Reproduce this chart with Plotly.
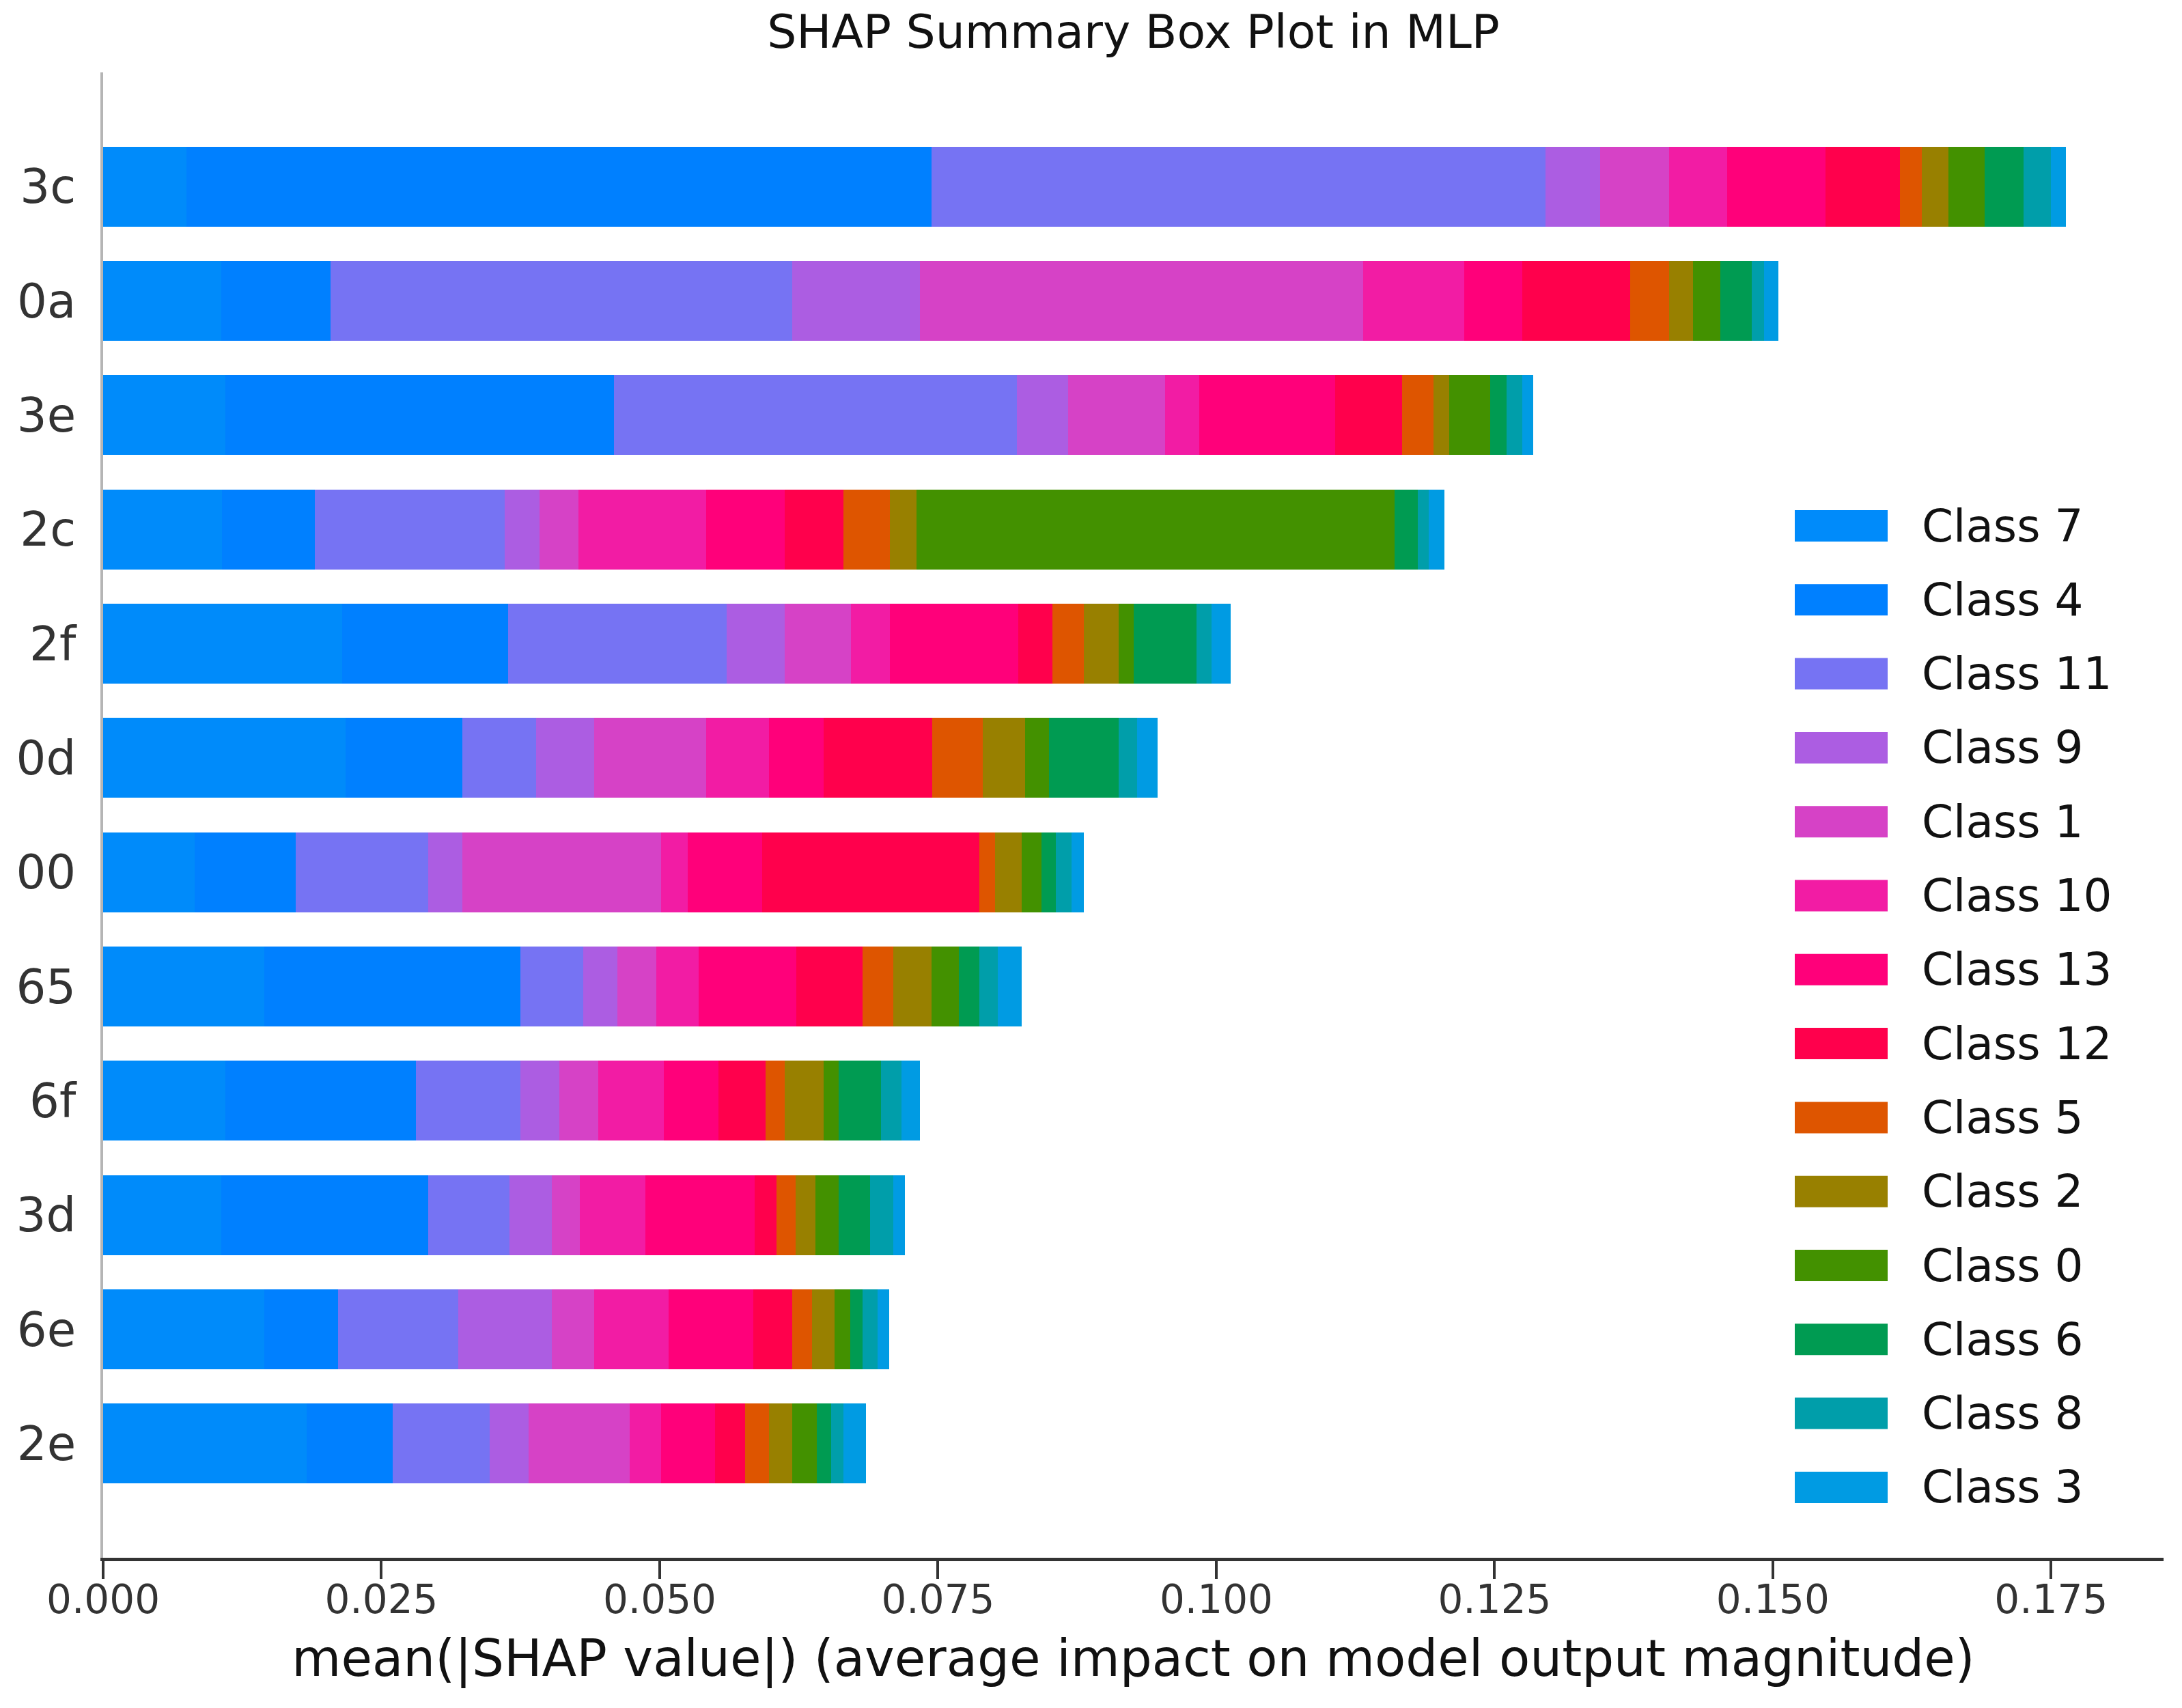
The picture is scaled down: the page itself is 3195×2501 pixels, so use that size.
import plotly.graph_objects as go

# features, top to bottom
features = ['3c', '0a', '3e', '2c', '2f', '0d', '00', '65', '6f', '3d', '6e', '2e']

# stacking order (also legend order)
class_names = ['Class 7', 'Class 4', 'Class 11', 'Class 9', 'Class 1', 'Class 10', 'Class 13',
               'Class 12', 'Class 5', 'Class 2', 'Class 0', 'Class 6', 'Class 8', 'Class 3']
class_colors = ['#008bfa', '#0080ff', '#7673f3', '#ac5de2', '#d642c6', '#f21ca4', '#ff007a',
                '#ff004c', '#de5500', '#988000', '#439100', '#009b52', '#009eaa', '#009be3']

# mean(|SHAP|) per class, one value per feature (same order as features)
class_7 = [0.0075, 0.0106, 0.0110, 0.0107, 0.0215, 0.0218, 0.0082, 0.0145, 0.0110, 0.0106, 0.0145, 0.0183]
class_4 = [0.0669, 0.0098, 0.0349, 0.0083, 0.0149, 0.0105, 0.0091, 0.0230, 0.0171, 0.0186, 0.0066, 0.0077]
class_11 = [0.0552, 0.0415, 0.0362, 0.0171, 0.0196, 0.0066, 0.0119, 0.0056, 0.0094, 0.0073, 0.0108, 0.0087]
class_9 = [0.0049, 0.0115, 0.0046, 0.0031, 0.0052, 0.0052, 0.0031, 0.0031, 0.0035, 0.0038, 0.0084, 0.0035]
class_1 = [0.0062, 0.0398, 0.0087, 0.0035, 0.0060, 0.0101, 0.0178, 0.0035, 0.0035, 0.0025, 0.0038, 0.0091]
class_10 = [0.0052, 0.0091, 0.0031, 0.0115, 0.0035, 0.0056, 0.0024, 0.0038, 0.0059, 0.0059, 0.0067, 0.0028]
class_13 = [0.0088, 0.0052, 0.0122, 0.0070, 0.0115, 0.0049, 0.0067, 0.0088, 0.0049, 0.0098, 0.0076, 0.0049]
class_12 = [0.0067, 0.0097, 0.0060, 0.0053, 0.0031, 0.0098, 0.0195, 0.0059, 0.0042, 0.0020, 0.0035, 0.0027]
class_5 = [0.0020, 0.0035, 0.0028, 0.0042, 0.0028, 0.0045, 0.0014, 0.0028, 0.0017, 0.0017, 0.0018, 0.0021]
class_2 = [0.0024, 0.0021, 0.0014, 0.0024, 0.0031, 0.0038, 0.0024, 0.0034, 0.0035, 0.0018, 0.0020, 0.0021]
class_0 = [0.0032, 0.0025, 0.0037, 0.0429, 0.0014, 0.0022, 0.0018, 0.0025, 0.0014, 0.0021, 0.0014, 0.0022]
class_6 = [0.0035, 0.0028, 0.0015, 0.0021, 0.0056, 0.0062, 0.0013, 0.0018, 0.0038, 0.0028, 0.0011, 0.0013]
class_8 = [0.0025, 0.0011, 0.0014, 0.0010, 0.0014, 0.0017, 0.0014, 0.0017, 0.0018, 0.0021, 0.0014, 0.0011]
class_3 = [0.0013, 0.0013, 0.0010, 0.0014, 0.0017, 0.0018, 0.0011, 0.0021, 0.0017, 0.0010, 0.0010, 0.0020]

class_values = [class_7, class_4, class_11, class_9, class_1, class_10, class_13,
                class_12, class_5, class_2, class_0, class_6, class_8, class_3]

x_ticks = [0.0, 0.025, 0.05, 0.075, 0.1, 0.125, 0.15, 0.175]

# figure geometry (pixels); the page body adds an 8px offset on the left and top
OFF = 8
W, H = 3195 - OFF, 2501 - OFF
L, R, T, B = 151 - OFF, 27, 106 - OFF, 220
FONT = 'DejaVu Sans'


def px_x(px):
    # page pixel -> paper fraction
    return (px - OFF - L) / (W - L - R)


def px_y(py):
    return (H - B - (py - OFF)) / (H - T - B)


fig = go.Figure()

for name, color, vals in zip(class_names, class_colors, class_values):
    fig.add_trace(go.Bar(
        x=vals,
        y=features,
        orientation='h',
        name=name,
        width=0.7,
        marker=dict(color=color, line=dict(width=0)),
        showlegend=False
    ))

# legend drawn by hand so the patches get matplotlib's size
shapes = []
annotations = []
for k, (name, color) in enumerate(zip(class_names, class_colors)):
    yc = 770 + k * 108.3
    shapes.append(dict(
        type='rect', xref='paper', yref='paper',
        x0=px_x(2628), x1=px_x(2764),
        y0=px_y(yc + 23), y1=px_y(yc - 23),
        fillcolor=color, line=dict(width=0)
    ))
    annotations.append(dict(
        xref='paper', yref='paper',
        x=px_x(2812), y=px_y(yc),
        xanchor='left', yanchor='middle',
        text=name, showarrow=False,
        font=dict(family=FONT, size=66, color='#111111')
    ))

fig.update_layout(
    width=W, height=H, autosize=False,
    barmode='stack',
    bargap=0.3,
    plot_bgcolor='white', paper_bgcolor='white',
    margin=dict(l=L, r=R, t=T, b=B, autoexpand=False),
    font=dict(family=FONT, color='#333333'),
    title=dict(
        text='SHAP Summary Box Plot in MLP',
        x=0.5, xref='paper', xanchor='center',
        y=1 - 38 / H, yanchor='middle',
        font=dict(family=FONT, size=68, color='#111111')
    ),
    xaxis=dict(
        range=[0, 0.1851],
        tickvals=x_ticks,
        tickformat='.3f',
        ticks='outside', ticklen=26, tickwidth=4, tickcolor='#333333',
        ticklabelstandoff=-20,
        tickfont=dict(family=FONT, size=58, color='#333333'),
        showline=True, linecolor='#333333', linewidth=5,
        showgrid=False, zeroline=False,
        automargin=False,
        title=dict(
            text='mean(|SHAP value|) (average impact on model output magnitude)',
            font=dict(family=FONT, size=74, color='#111111'),
            standoff=29
        )
    ),
    yaxis=dict(
        type='category',
        categoryorder='array', categoryarray=features,
        range=[len(features), -1],
        ticks='', ticklabelstandoff=22,
        tickfont=dict(family=FONT, size=69, color='#333333'),
        showline=True, linecolor='#b5b5b5', linewidth=4,
        showgrid=False, zeroline=False,
        automargin=False
    ),
    shapes=shapes,
    annotations=annotations
)

fig.write_html('out.html')
